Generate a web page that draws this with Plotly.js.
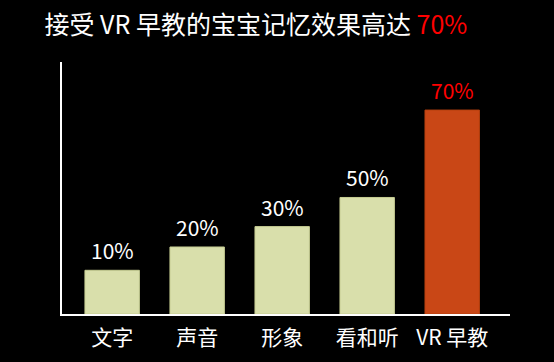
<!DOCTYPE html>
<html>
<head>
<meta charset="utf-8">
<script src="https://cdn.plot.ly/plotly-3.0.1.min.js"></script>
<style>html,body{margin:0;padding:0;background:#000;}#chart{width:554px;height:362px;}</style>
</head>
<body>
<div id="chart"></div>
<script>
// Data
var categories = ["文字", "声音", "形象", "看和听", "VR 早教"];
var barHeights = [15, 23, 30, 40, 70];           // drawn bar heights (arbitrary units, as pictured)
var valueLabels = ["10%", "20%", "30%", "50%", "70%"];
var titleMain = "接受 VR 早教的宝宝记忆效果高达 ";
var titleHighlight = "70%";

var FONT = "'Noto Sans CJK SC', 'Noto Sans', sans-serif";
var barColors = categories.map(function (c, i) { return i === categories.length - 1 ? "#c94716" : "#d9dfab"; });
var lineColors = categories.map(function (c, i) { return i === categories.length - 1 ? "#b8400f" : "#c6cd92"; });
var labelColors = categories.map(function (c, i) { return i === categories.length - 1 ? "#ff0000" : "#ffffff"; });

var trace = {
  type: "bar",
  x: categories,
  y: barHeights,
  marker: { color: barColors, line: { color: lineColors, width: 1 } },
  hoverinfo: "skip"
};

var annotations = categories.map(function (c, i) {
  return {
    x: c, y: barHeights[i], xref: "x", yref: "y",
    text: valueLabels[i], showarrow: false,
    yanchor: "bottom", yshift: 3,
    font: { family: FONT, size: 21, color: labelColors[i] }
  };
});

var layout = {
  width: 554, height: 362,
  paper_bgcolor: "#000000", plot_bgcolor: "#000000",
  margin: { l: 62, r: 44, t: 62, b: 48 },
  title: {
    text: titleMain + "<span style='color:#ff0000'>" + titleHighlight + "</span>",
    font: { family: FONT, size: 25, color: "#ffffff" },
    x: 0.462, xanchor: "center", y: 0.93, yanchor: "middle"
  },
  bargap: 0.36,
  showlegend: false,
  xaxis: {
    type: "category",
    range: [-0.59, 4.68],
    showline: true, linecolor: "#ffffff", linewidth: 2,
    ticks: "", showgrid: false, zeroline: false,
    ticklabelstandoff: 4,
    tickfont: { family: FONT, size: 21, color: "#ffffff" },
    fixedrange: true
  },
  yaxis: {
    range: [0, 86.5],
    showline: true, linecolor: "#ffffff", linewidth: 2,
    showticklabels: false, ticks: "", showgrid: false, zeroline: false,
    fixedrange: true
  },
  annotations: annotations
};

Plotly.newPlot("chart", [trace], layout, { displayModeBar: false, staticPlot: true });
</script>
</body>
</html>
